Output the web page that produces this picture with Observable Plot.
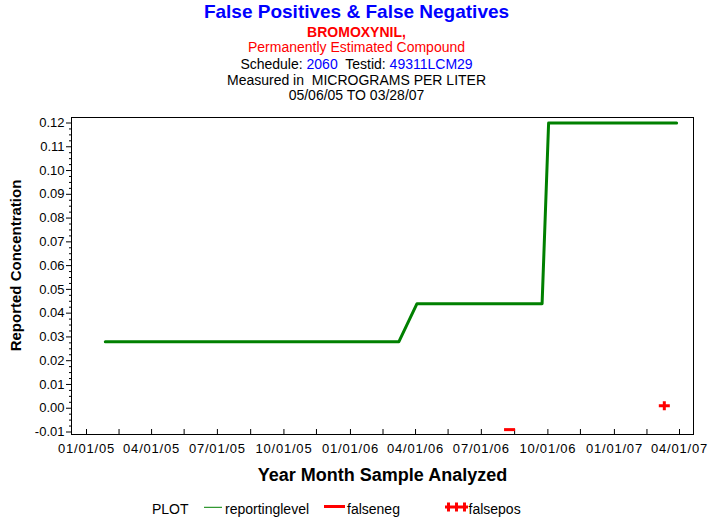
<!DOCTYPE html>
<html><head><meta charset="utf-8">
<script src="https://cdn.jsdelivr.net/npm/d3@7"></script>
<script src="https://cdn.jsdelivr.net/npm/@observablehq/plot@0.6"></script>
<style>
body{margin:0;background:#fff;font-family:"Liberation Sans",Arial,sans-serif;}
#wrap{position:relative;width:713px;height:523px;overflow:hidden;background:#fff}
#head{position:relative;height:110px}
.hl{position:absolute;left:0;width:713px;text-align:center;line-height:1;white-space:pre;font-size:14px}
#chart{height:385px}
#legend{position:relative;height:28px}
.lg{position:absolute;line-height:1;font-size:14px;white-space:pre;top:7px}
#chart g[aria-label="x-axis tick label"] text{letter-spacing:0.8px}
</style></head><body>
<div id="wrap">
<div id="head">
  <div class="hl" style="top:2px;font-size:19px;font-weight:bold;color:#0000ff">False Positives &amp; False Negatives</div>
  <div class="hl" style="top:24.5px;font-weight:bold;color:#ff0000">BROMOXYNIL,</div>
  <div class="hl" style="top:40px;color:#ff0000">Permanently Estimated Compound</div>
  <div class="hl" style="top:56.5px;color:#000">Schedule: <span style="color:#0000ff">2060</span>  Testid: <span style="color:#0000ff">49311LCM29</span></div>
  <div class="hl" style="top:72.5px;color:#000">Measured in  MICROGRAMS PER LITER</div>
  <div class="hl" style="top:87.5px;color:#000">05/06/05 TO 03/28/07</div>
</div>
<div id="chart"></div>
<div id="legend">
  <svg width="713" height="28" style="position:absolute;left:0;top:0">
    <line x1="204" x2="222" y1="12.3" y2="12.3" stroke="#008000" stroke-width="1"/>
    <rect x="324" y="10" width="21" height="3" fill="#ff0000"/>
    <rect x="445" y="10.5" width="23" height="3" fill="#ff0000"/>
    <rect x="447" y="7.5" width="3" height="9" fill="#ff0000"/>
    <rect x="455" y="7.5" width="3" height="9" fill="#ff0000"/>
    <rect x="463" y="7.5" width="3" height="9" fill="#ff0000"/>
  </svg>
  <span class="lg" style="left:152px">PLOT</span>
  <span class="lg" style="left:225px">reportinglevel</span>
  <span class="lg" style="left:347px">falseneg</span>
  <span class="lg" style="left:468.5px">falsepos</span>
</div>
</div>
<script>
// ---- data ----
const levelDates = ["2005-01-27","2006-03-09","2006-04-03","2006-09-23","2006-10-02","2007-03-28"];
const levelValues = [0.028, 0.028, 0.044, 0.044, 0.12, 0.12];
const falseNegDates = ["2006-08-09"];
const falseNegValues = [-0.009];
const falsePosDates = ["2007-03-11"];
const falsePosValues = [0.001];
const xTickDates = ["2005-01-01","2005-04-01","2005-07-01","2005-10-01","2006-01-01","2006-04-01","2006-07-01","2006-10-01","2007-01-01","2007-04-01"];
const xTickLabels = ["01/01/05","04/01/05","07/01/05","10/01/05","01/01/06","04/01/06","07/01/06","10/01/06","01/01/07","04/01/07"];
const xMinorDates = ["2005-02-15","2005-05-16","2005-08-16","2005-11-15","2006-02-15","2006-05-16","2006-08-16","2006-11-15","2007-02-15"];
const yTicks = [-0.01,0,0.01,0.02,0.03,0.04,0.05,0.06,0.07,0.08,0.09,0.10,0.11,0.12];
const yTickLabels = ["-0.01","0.00","0.01","0.02","0.03","0.04","0.05","0.06","0.07","0.08","0.09","0.10","0.11","0.12"];
const yMinorTicks = [];
for (let i = 0; i < yTicks.length - 1; i++) for (let k = 1; k < 4; k++) yMinorTicks.push(yTicks[i] + (yTicks[i+1] - yTicks[i]) * k / 4);
const xTitle = "Year Month Sample Analyzed";
const yTitle = "Reported Concentration";

const parse = d3.utcParse("%Y-%m-%d");
const level = levelDates.map((d, i) => ({date: parse(d), value: levelValues[i]}));
const fneg = falseNegDates.map((d, i) => ({date: parse(d), value: falseNegValues[i]}));
const fpos = falsePosDates.map((d, i) => ({date: parse(d), value: falsePosValues[i]}));
const xMajor = xTickDates.map(parse);
const xAll = [...xMajor, ...xMinorDates.map(parse)];

const minusSymbol = {draw(ctx) { ctx.rect(-5.5, -1.5, 11, 3); }};
const plusSymbol = {draw(ctx) { ctx.rect(-5.5, -1.5, 11, 3); ctx.rect(-1.5, -4.5, 3, 9); }};

const font = "'Liberation Sans', Arial, sans-serif";
const chart = Plot.plot({
  width: 713, height: 385,
  marginLeft: 71, marginRight: 20, marginTop: 7, marginBottom: 61,
  style: {fontFamily: font, fontSize: "13px", color: "black", background: "white", overflow: "visible"},
  x: {type: "utc", domain: [parse("2005-01-01"), parse("2007-04-01")], range: [86, 679]},
  y: {domain: [-0.01, 0.12], range: [321.5, 12.5]},
  marks: [
    Plot.axisY(yMinorTicks, {tickSize: 2, tickFormat: () => "", stroke: "black", label: null}),
    Plot.axisY(yTicks, {tickSize: 5, tickPadding: 2, fontSize: 13, stroke: "black", label: null,
      tickFormat: d => yTickLabels[yTicks.findIndex(t => Math.abs(t - d) < 1e-9)]}),
    Plot.tickX(xAll, {x: d => d, insetTop: 312, stroke: "black"}),
    Plot.axisX(xMajor, {tickSize: 0, tickPadding: 9, fontSize: 13, label: null,
      tickFormat: d => xTickLabels[xMajor.findIndex(t => +t === +d)]}),
    Plot.frame({stroke: "black", strokeWidth: 1}),
    Plot.line(level, {x: "date", y: "value", stroke: "#008000", strokeWidth: 3, curve: "linear"}),
    Plot.dot(fneg, {x: "date", y: "value", symbol: minusSymbol, fill: "#ff0000", stroke: null, r: 5}),
    Plot.dot(fpos, {x: "date", y: "value", symbol: plusSymbol, fill: "#ff0000", stroke: null, r: 5}),
    Plot.text([xTitle], {frameAnchor: "bottom", dy: 46, fontSize: 18, fontWeight: "bold", fill: "black"}),
    Plot.text([yTitle], {frameAnchor: "left", textAnchor: "middle", dx: -55.5, dy: -10.5, rotate: -90, fontSize: 15, fontWeight: "bold", fill: "black"})
  ]
});
document.getElementById("chart").appendChild(chart);
</script>
</body></html>
